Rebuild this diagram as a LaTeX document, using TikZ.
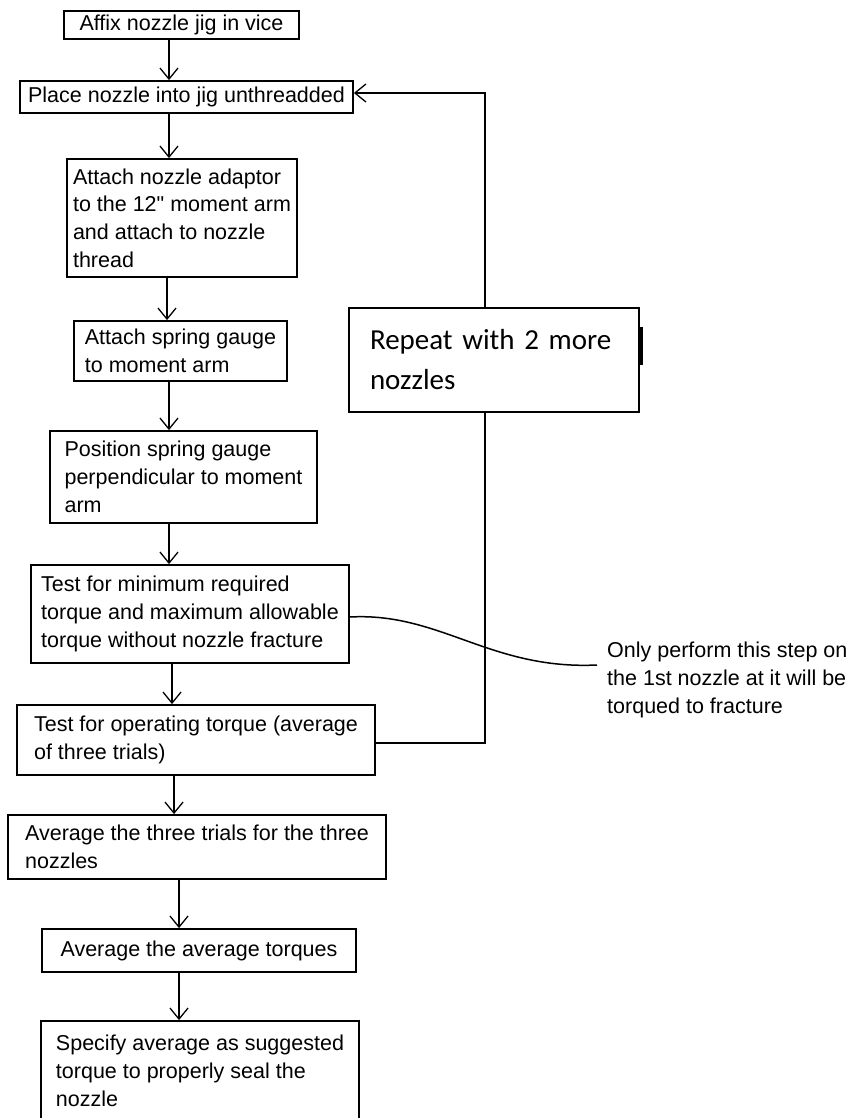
\documentclass[tikz,border=0pt]{standalone}
\usepackage{fontspec}
\setmainfont{Liberation Sans}[Ligatures=TeXOff]
\newfontfamily\calibri{Carlito}
\usetikzlibrary{arrows.meta}
\begin{document}
\begin{tikzpicture}[x=1pt,y=-1pt,
  stepbox/.style={draw,line width=1.8pt,align=left,inner sep=0pt,font=\fontsize{21.5}{27.7}\selectfont},
  flow/.style={line width=1.8pt,-{Straight Barb[length=11pt,width=18pt,line width=1.3pt]}}]
\useasboundingbox (0,0) rectangle (855,1118);
\clip (0,0) rectangle (855,1118);
\node[stepbox,minimum width=235,minimum height=28] (affix) at (181.5,25) {Affix nozzle jig in vice};
\node[stepbox,minimum width=333,minimum height=32] (place) at (186.5,97) {Place nozzle into jig unthreadded};
\node[stepbox,minimum width=230,minimum height=118] (adaptor) at (182,218) {Attach nozzle adaptor\\to the 12" moment arm\\and attach to nozzle\\thread};
\node[stepbox,minimum width=213,minimum height=60] (gauge) at (180.5,351) {Attach spring gauge\\to moment arm};
\node[stepbox,minimum width=267,minimum height=92] (position) at (183.5,477) {Position spring gauge\\perpendicular to moment\\arm};
\node[stepbox,minimum width=318,minimum height=98] (maxtest) at (190,614) {Test for minimum required\\torque and maximum allowable\\torque without nozzle fracture};
\node[stepbox,minimum width=358,minimum height=70] (optest) at (196,740) {Test for operating torque (average\\of three trials)};
\node[stepbox,minimum width=378,minimum height=64] (avgtrials) at (197,847) {Average the three trials for the three\\nozzles};
\node[stepbox,minimum width=314,minimum height=43] (avgavg) at (199,950.5) {Average the average torques};
\node[stepbox,minimum width=318,minimum height=100] (specify) at (200,1071) {Specify average as suggested\\torque to properly seal the\\nozzle};
\node[draw,line width=2.2pt,align=left,text width=248,inner xsep=21,inner ysep=0,minimum height=104,
  font=\calibri\fontsize{29}{40}\selectfont] (again) at (494,360) {Repeat with 2 more\\nozzles};
\draw[line width=3pt] (641,327) -- (641,365);
\node[align=left,anchor=west,inner xsep=10,inner ysep=0,font=\fontsize{21.5}{27.7}\selectfont] (note) at (597,680)
  {Only perform this step on\\the 1st nozzle at it will be\\torqued to fracture};
\foreach \a/\b/\x in {affix/place/169,place/adaptor/169,adaptor/gauge/167,gauge/position/169,position/maxtest/169,
  maxtest/optest/172,optest/avgtrials/174,avgtrials/avgavg/179,avgavg/specify/179}
  \draw[flow] (\a.south -| \x,0) -- (\b.north -| \x,0);
\coordinate (turn) at (485,743);
\coordinate (top) at (485,93);
\draw[line width=1.8pt] (optest.east |- turn) -- (turn) -- (again.south -| turn);
\draw[flow] (again.north -| turn) -- (top) -- (place.east |- top);
\draw[line width=1.5pt] (maxtest.east |- 0,617) .. controls (440,612) and (490,670) .. ([yshift=15pt]note.west);
\end{tikzpicture}
\end{document}
